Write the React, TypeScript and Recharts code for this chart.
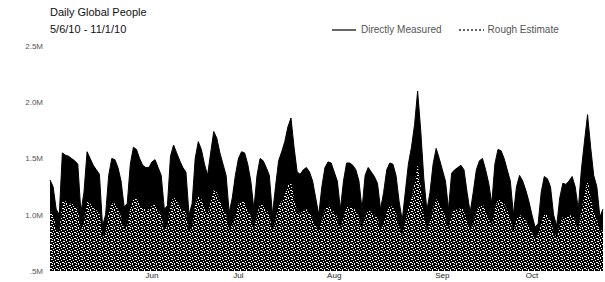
import React from "react";
import { AreaChart, Area, XAxis, YAxis } from "recharts";

// daily totals, millions of people, 5/6/10 .. 11/1/10
const measured = [
  1.31, 1.25, 1.05, 1.0, 1.55, 1.53, 1.52, 1.5, 1.48, 1.45,
  1.02, 1.2, 1.56, 1.5, 1.44, 1.4, 1.36, 0.9, 1.0, 1.35,
  1.5, 1.49, 1.42, 1.3, 1.07, 1.1, 1.45, 1.6, 1.58, 1.5,
  1.44, 1.42, 1.42, 1.47, 1.49, 1.42, 1.35, 1.05, 1.08, 1.52,
  1.62, 1.55, 1.48, 1.42, 1.38, 1.0, 1.1, 1.5, 1.65, 1.58,
  1.45, 1.35, 1.55, 1.74, 1.68, 1.55, 1.45, 1.35, 1.02, 1.15,
  1.35, 1.5, 1.56, 1.55, 1.45, 1.3, 1.05, 1.35, 1.5, 1.48,
  1.42, 1.35, 1.0, 1.25, 1.48, 1.56, 1.65, 1.78, 1.86, 1.6,
  1.38, 1.36, 1.4, 1.42, 1.38, 1.3, 1.15, 1.0, 1.25, 1.42,
  1.47, 1.46, 1.38, 1.3, 1.05, 1.3, 1.46, 1.46, 1.44, 1.4,
  1.3, 1.05, 1.35, 1.42, 1.38, 1.34, 1.28, 1.05, 1.2, 1.4,
  1.46, 1.45, 1.35, 1.12, 0.95, 1.2, 1.45, 1.6, 1.8, 2.1,
  1.75, 1.32, 1.04, 1.2, 1.45, 1.59, 1.5, 1.4, 1.3, 1.05,
  1.37, 1.4, 1.42, 1.44, 1.4, 1.2, 1.02, 1.2, 1.4, 1.48,
  1.5, 1.4, 1.28, 1.1, 1.45, 1.58, 1.57, 1.5, 1.4, 1.3,
  1.0, 1.25, 1.35, 1.3, 1.22, 1.12, 1.0, 0.89, 0.92, 1.2,
  1.34, 1.32, 1.25, 1.0, 0.9, 1.15, 1.28, 1.27, 1.3, 1.34,
  1.25, 1.05, 1.4, 1.65, 1.89, 1.6, 1.35, 1.25, 0.98, 1.05,
];

const rough = [
  1.05, 1.0, 0.88, 0.85, 1.12, 1.12, 1.1, 1.1, 1.08, 1.06,
  0.86, 0.95, 1.12, 1.1, 1.06, 1.04, 1.02, 0.8, 0.85, 1.02,
  1.1, 1.1, 1.05, 0.98, 0.88, 0.9, 1.06, 1.15, 1.14, 1.1,
  1.06, 1.05, 1.05, 1.08, 1.09, 1.05, 1.0, 0.87, 0.9, 1.1,
  1.16, 1.12, 1.08, 1.05, 1.02, 0.85, 0.9, 1.1, 1.18, 1.14,
  1.06, 1.0, 1.12, 1.22, 1.2, 1.12, 1.06, 1.0, 0.86, 0.92,
  1.0, 1.1, 1.12, 1.12, 1.06, 0.98, 0.87, 1.0, 1.1, 1.08,
  1.05, 1.0, 0.85, 0.96, 1.08, 1.12, 1.18, 1.26, 1.3, 1.15,
  1.02, 1.01, 1.04, 1.05, 1.02, 0.98, 0.9, 0.85, 0.96, 1.05,
  1.08, 1.07, 1.02, 0.98, 0.87, 0.98, 1.07, 1.07, 1.06, 1.04,
  0.98, 0.87, 1.0, 1.05, 1.02, 1.0, 0.97, 0.87, 0.94, 1.04,
  1.08, 1.07, 1.01, 0.9, 0.82, 0.94, 1.06, 1.15, 1.28, 1.45,
  1.25, 0.99, 0.86, 0.94, 1.06, 1.14, 1.1, 1.04, 0.98, 0.87,
  1.02, 1.04, 1.05, 1.06, 1.04, 0.94, 0.86, 0.94, 1.04, 1.08,
  1.1, 1.04, 0.97, 0.9, 1.06, 1.14, 1.13, 1.1, 1.04, 0.98,
  0.85, 0.96, 1.0, 0.98, 0.95, 0.9, 0.84, 0.8, 0.82, 0.94,
  1.0, 1.0, 0.96, 0.85, 0.8, 0.92, 0.98, 0.98, 0.99, 1.0,
  0.96, 0.87, 1.04, 1.18, 1.32, 1.16, 1.02, 0.97, 0.84, 0.88,
];

const yTicks = [0.5, 1, 1.5, 2, 2.5];
const monthTicks = [33, 61, 92, 127, 156];
const monthLabels = ["Jun", "Jul", "Aug", "Sep", "Oct"];

const data = measured.map((v, i) => ({ i, measured: v, rough: rough[i] }));

const font = "'Liberation Sans', Arial, sans-serif";

const fmtY = (v: number) => (v < 1 ? ".5M" : `${v.toFixed(1)}M`);
const fmtX = (v: number) => monthLabels[monthTicks.indexOf(v)] ?? "";

export default function App() {
  return (
    <div style={{ position: "relative", width: 605, height: 282, overflow: "hidden", fontFamily: font, background: "#fff" }}>
      <style>{`body{margin:0}`}</style>
      <div style={{ position: "absolute", left: 50, top: 6, fontSize: 11, color: "#111" }}>Daily Global People</div>
      <div style={{ position: "absolute", left: 50, top: 23, fontSize: 11, color: "#111" }}>5/6/10 - 11/1/10</div>

      <div style={{ position: "absolute", left: 332, top: 24, fontSize: 10, color: "#555", display: "flex", alignItems: "center", whiteSpace: "nowrap" }}>
        <svg width={24} height={6} style={{ marginRight: 5 }}>
          <line x1={0} y1={3} x2={24} y2={3} stroke="#333" strokeWidth={1.5} />
        </svg>
        <span style={{ marginRight: 17 }}>Directly Measured</span>
        <svg width={25} height={6} style={{ marginRight: 4 }}>
          <line x1={0} y1={3} x2={25} y2={3} stroke="#333" strokeWidth={1.5} strokeDasharray="2 2" />
        </svg>
        <span>Rough Estimate</span>
      </div>

      <AreaChart width={605} height={282} data={data} margin={{ top: 46, right: 2, left: 0, bottom: 0 }}>
        <defs>
          <pattern id="stipple" width={6} height={6} patternUnits="userSpaceOnUse">
            <rect width={6} height={6} fill="#000" />
            <rect x={0} y={0} width={1} height={1} fill="#fff" />
            <rect x={3} y={1} width={2} height={1} fill="#fff" />
            <rect x={1} y={2} width={1} height={1} fill="#fff" />
            <rect x={5} y={3} width={1} height={1} fill="#fff" />
            <rect x={2} y={4} width={2} height={1} fill="#fff" />
            <rect x={0} y={5} width={1} height={1} fill="#fff" />
            <rect x={4} y={5} width={1} height={1} fill="#fff" />
          </pattern>
        </defs>
        <XAxis
          dataKey="i"
          type="number"
          domain={[0, 179]}
          ticks={monthTicks}
          tickFormatter={fmtX}
          axisLine={false}
          tickLine={false}
          tickSize={1}
          tickMargin={0}
          height={11}
          tick={{ fontSize: 8, fill: "#222", fontFamily: font }}
        />
        <YAxis
          domain={[0.5, 2.5]}
          ticks={yTicks}
          tickFormatter={fmtY}
          axisLine={false}
          tickLine={false}
          tickSize={5}
          width={50}
          tick={{ fontSize: 8, fill: "#555", fontFamily: font }}
        />
        <Area
          type="linear"
          dataKey="measured"
          stroke="#000"
          strokeWidth={1}
          fill="#000"
          fillOpacity={1}
          isAnimationActive={false}
        />
        <Area
          type="linear"
          dataKey="rough"
          stroke="none"
          fill="url(#stipple)"
          fillOpacity={1}
          isAnimationActive={false}
        />
      </AreaChart>
    </div>
  );
}
